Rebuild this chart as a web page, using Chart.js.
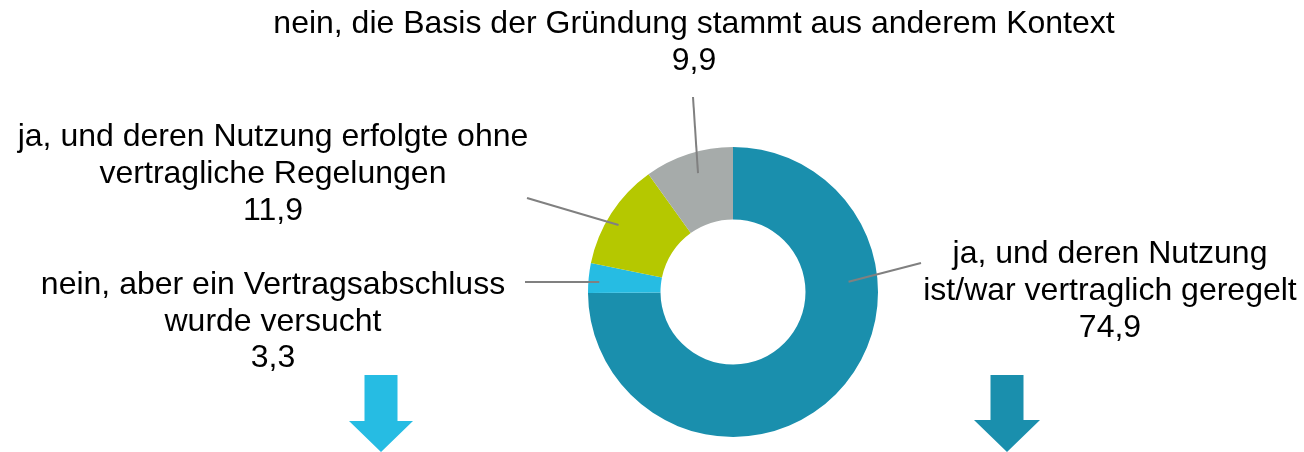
<!DOCTYPE html>
<html><head><meta charset="utf-8">
<script src="https://cdn.jsdelivr.net/npm/chart.js@4/dist/chart.umd.min.js"></script>
<style>html,body{margin:0;padding:0;background:#fff;overflow:hidden;} canvas{display:block;}</style>
</head><body>
<canvas id="c" width="1304" height="452"></canvas>
<script>
// ---- data ----
const categories = [
  ["ja, und deren Nutzung", "ist/war vertraglich geregelt"],
  ["nein, aber ein Vertragsabschluss", "wurde versucht"],
  ["ja, und deren Nutzung erfolgte ohne", "vertragliche Regelungen"],
  ["nein, die Basis der Gründung stammt aus anderem Kontext"]
];
const values = [74.9, 3.3, 11.9, 9.9];
const colors = ['#1a8fad', '#26bce3', '#b5c800', '#a6abaa'];
const arrowCategories = [1, 0];

// ---- layout (positions/styles) ----
const labelLayout = [
  { x: 1110, y: 263, lh: 37,   t: 0.315, f: 0.60, lx: 921, ly: 263 },
  { x: 273,  y: 294, lh: 36.5, t: 0.39,  f: 0.85, lx: 525, ly: 282 },
  { x: 273,  y: 146, lh: 37,   t: 0.44,  f: 0.83, lx: 527, ly: 198 },
  { x: 694,  y: 33,  lh: 37,   t: 0.54,  f: 0.71, lx: 693, ly: 97 }
];
const arrowLayout = [
  { x: 381,  top: 375, headY: 421, bottom: 452, shaftW: 33, headW: 64 },
  { x: 1007, top: 375, headY: 420, bottom: 452, shaftW: 33, headW: 66 }
];
const fmt = v => v.toFixed(1).replace('.', ',');

const annotPlugin = {
  id: 'annot',
  afterDraw(chart) {
    const ctx = chart.ctx;
    const meta = chart.getDatasetMeta(0);
    ctx.save();
    meta.data.forEach((arc, i) => {
      const L = labelLayout[i];
      const p = arc.getProps(['x', 'y', 'startAngle', 'endAngle', 'innerRadius', 'outerRadius'], true);
      const a = p.startAngle + L.t * (p.endAngle - p.startAngle);
      const r = p.innerRadius + L.f * (p.outerRadius - p.innerRadius);
      const px = p.x + r * Math.cos(a), py = p.y + r * Math.sin(a);
      ctx.strokeStyle = '#808080';
      ctx.lineWidth = 2;
      ctx.beginPath();
      ctx.moveTo(L.lx, L.ly);
      ctx.lineTo(px, py);
      ctx.stroke();
      const lines = categories[i].concat([fmt(values[i])]);
      ctx.fillStyle = '#000';
      ctx.font = '32px "Liberation Sans", Arial, sans-serif';
      ctx.textAlign = 'center';
      ctx.textBaseline = 'alphabetic';
      lines.forEach((s, k) => ctx.fillText(s, L.x, L.y + k * L.lh));
    });
    arrowCategories.forEach((ci, k) => {
      const A = arrowLayout[k];
      ctx.fillStyle = colors[ci];
      ctx.beginPath();
      ctx.moveTo(A.x - A.shaftW / 2, A.top);
      ctx.lineTo(A.x + A.shaftW / 2, A.top);
      ctx.lineTo(A.x + A.shaftW / 2, A.headY);
      ctx.lineTo(A.x + A.headW / 2, A.headY);
      ctx.lineTo(A.x, A.bottom);
      ctx.lineTo(A.x - A.headW / 2, A.headY);
      ctx.lineTo(A.x - A.shaftW / 2, A.headY);
      ctx.closePath();
      ctx.fill();
    });
    ctx.restore();
  }
};

new Chart(document.getElementById('c'), {
  type: 'doughnut',
  data: {
    labels: categories.map(c => c.join(' ')),
    datasets: [{ data: values, backgroundColor: colors, borderWidth: 0, hoverOffset: 0 }]
  },
  options: {
    responsive: false,
    animation: false,
    cutout: '50%',
    layout: { padding: { top: 147, bottom: 15, left: 588, right: 426 } },
    plugins: { legend: { display: false }, tooltip: { enabled: false } }
  },
  plugins: [annotPlugin]
});
</script>
</body></html>
